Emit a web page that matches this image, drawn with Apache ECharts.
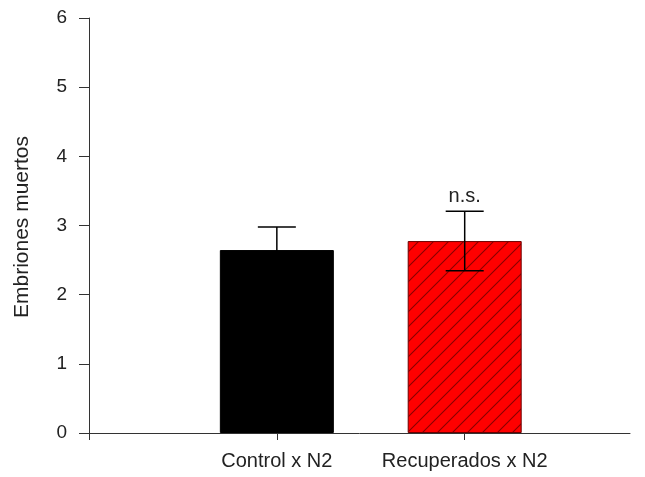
<!DOCTYPE html>
<html>
<head>
<meta charset="utf-8">
<script src="https://cdn.jsdelivr.net/npm/echarts@6/dist/echarts.min.js"></script>
<style>
  html, body { margin: 0; padding: 0; background: #fff; }
  #chart { width: 645px; height: 477px; }
</style>
</head>
<body>
<div id="chart"></div>
<script>
// Group labels and their positions on the x scale
var categories = ['Control x N2', 'Recuperados x N2'];
var positions = [1, 2];
// Mean dead embryos per group and standard error
var means = [2.645, 2.775];
var errors = [0.335, 0.43];
// Significance annotation per group ('' = none)
var annotations = ['', 'n.s.'];
// Y tick values
var yTicks = [0, 1, 2, 3, 4, 5, 6];

var FONT = 'Liberation Sans, Arial, sans-serif';
var TEXT = '#222';
var AXIS = '#333';

// Diagonal hatch tile for the second bar
function hatchPattern() {
  var s = 15;
  var c = document.createElement('canvas');
  c.width = s; c.height = s;
  var g = c.getContext('2d');
  g.fillStyle = '#ff0000';
  g.fillRect(0, 0, s, s);
  g.strokeStyle = '#8a0000';
  g.lineWidth = 1.1;
  g.beginPath();
  g.moveTo(-1, s + 1); g.lineTo(s + 1, -1);
  g.moveTo(-1, 1); g.lineTo(1, -1);
  g.moveTo(s - 1, s + 1); g.lineTo(s + 1, s - 1);
  g.stroke();
  return c;
}

var barData = means.map(function (v, i) {
  var style = i === 0
    ? { color: '#000', borderColor: '#000', borderWidth: 1 }
    : { color: { image: hatchPattern(), repeat: 'repeat' }, borderColor: '#6a0000', borderWidth: 1 };
  return { value: [positions[i], v], itemStyle: style };
});

var errData = means.map(function (v, i) {
  return [positions[i], v - errors[i], v + errors[i], i];
});

var chart = echarts.init(document.getElementById('chart'), null, { renderer: 'canvas' });
chart.setOption({
  animation: false,
  backgroundColor: '#fff',
  grid: { left: 89, right: 15, top: 18, bottom: 44 },
  xAxis: {
    type: 'value',
    min: 0,
    max: 2.88,
    interval: 1,
    splitLine: { show: false },
    axisLine: { show: true, onZero: false, lineStyle: { color: AXIS, width: 1 } },
    axisTick: { show: true, customValues: [0].concat(positions), length: 7, lineStyle: { color: AXIS } },
    axisLabel: {
      customValues: positions,
      margin: 18,
      color: TEXT,
      fontFamily: FONT,
      fontSize: 20,
      formatter: function (v) {
        var idx = positions.indexOf(Math.round(v));
        return idx >= 0 ? categories[idx] : '';
      }
    }
  },
  yAxis: {
    type: 'value',
    min: 0,
    max: 6,
    interval: 1,
    splitLine: { show: false },
    axisLine: { show: true, lineStyle: { color: AXIS, width: 1 } },
    axisTick: { show: true, length: 10, lineStyle: { color: AXIS } },
    axisLabel: {
      customValues: yTicks,
      margin: 22,
      color: TEXT,
      fontFamily: FONT,
      fontSize: 19
    }
  },
  graphic: [{
    type: 'text',
    x: 22,
    y: 227,
    rotation: Math.PI / 2,
    style: {
      text: 'Embriones muertos',
      fill: TEXT,
      font: '21px ' + FONT,
      align: 'center',
      verticalAlign: 'middle'
    }
  }],
  series: [
    {
      type: 'bar',
      barWidth: 114,
      data: barData,
      z: 2
    },
    {
      type: 'custom',
      z: 5,
      data: errData,
      renderItem: function (params, api) {
        var x = api.value(0);
        var lo = api.coord([x, api.value(1)]);
        var hi = api.coord([x, api.value(2)]);
        var half = 19;
        var style = { stroke: '#000', lineWidth: 1.5 };
        var children = [
          { type: 'line', shape: { x1: hi[0], y1: hi[1], x2: lo[0], y2: lo[1] }, style: style },
          { type: 'line', shape: { x1: hi[0] - half, y1: hi[1], x2: hi[0] + half, y2: hi[1] }, style: style },
          { type: 'line', shape: { x1: lo[0] - half, y1: lo[1], x2: lo[0] + half, y2: lo[1] }, style: style }
        ];
        var note = annotations[api.value(3)];
        if (note) {
          children.push({
            type: 'text',
            x: hi[0],
            y: hi[1] - 5,
            style: { text: note, fill: TEXT, font: '20px ' + FONT, align: 'center', verticalAlign: 'bottom' }
          });
        }
        return { type: 'group', children: children };
      }
    }
  ]
});
</script>
</body>
</html>
